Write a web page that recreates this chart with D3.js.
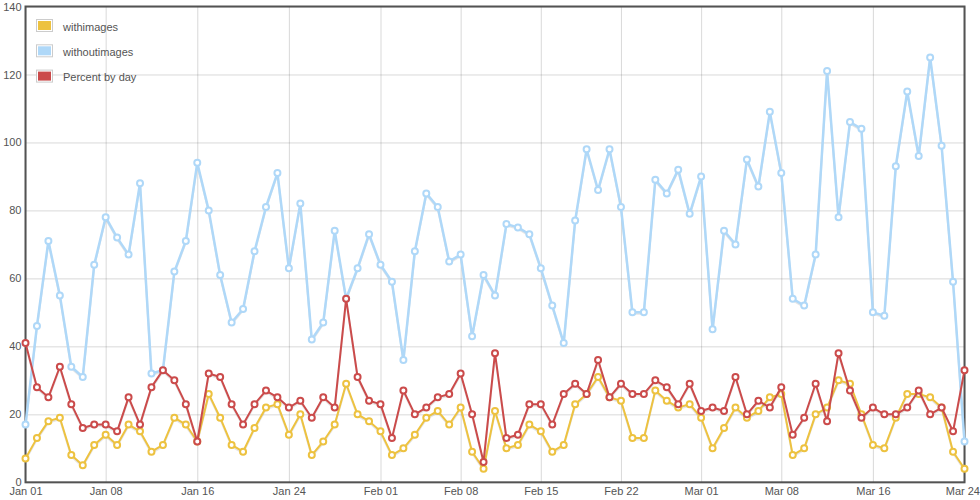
<!DOCTYPE html>
<html>
<head>
<meta charset="utf-8">
<script src="https://cdn.jsdelivr.net/npm/d3@7"></script>
<style>
  html, body { margin: 0; padding: 0; background: #fff; }
  svg { display: block; font-family: "Liberation Sans", Arial, sans-serif; }
</style>
</head>
<body>
<svg id="chart" width="980" height="500"></svg>
<script>
// ---- data ----
const startDate = "2011-01-01";
const seriesNames = ["withimages", "withoutimages", "Percent by day"];
const seriesColors = ["#edc240", "#afd8f8", "#cb4b4b"];
const withimages = [7,13,18,19,8,5,11,14,11,17,15,9,11,19,17,12,26,19,11,9,16,22,23,14,20,8,12,17,29,20,18,15,8,10,14,19,21,17,22,9,4,21,10,11,17,15,9,11,23,26,31,25,24,13,13,27,24,22,23,19,10,16,22,19,21,25,26,8,10,20,22,30,29,20,11,10,19,26,26,25,22,9,4];
const withoutimages = [17,46,71,55,34,31,64,78,72,67,88,32,33,62,71,94,80,61,47,51,68,81,91,63,82,42,47,74,54,63,73,64,59,36,68,85,81,65,67,43,61,55,76,75,73,63,52,41,77,98,86,98,81,50,50,89,85,92,79,90,45,74,70,95,87,109,91,54,52,67,121,78,106,104,50,49,93,115,96,125,99,59,12];
const percentByDay = [41,28,25,34,23,16,17,17,15,25,17,28,33,30,23,12,32,31,23,17,23,27,25,22,24,19,25,22,54,31,24,23,13,27,20,22,25,26,32,20,6,38,13,14,23,23,17,26,29,26,36,25,29,26,26,30,28,23,29,21,22,21,31,20,24,22,28,14,19,29,18,38,27,19,22,20,20,22,27,20,22,15,33];
const xTickLabels = ["2011-01-01","2011-01-08","2011-01-16","2011-01-24","2011-02-01","2011-02-08","2011-02-15","2011-02-22","2011-03-01","2011-03-08","2011-03-16","2011-03-24"];
const yTicks = [0,20,40,60,80,100,120,140];

// ---- layout ----
const W = 980;
const svg = d3.select("#chart");
const L = 25.5, R = 964.5, T = 6.5, B = 482.3;
const parse = d3.utcParse("%Y-%m-%d");
const fmt = d3.utcFormat("%b %d");
const d0 = parse(startDate);
const dates = withimages.map((_, i) => d3.utcDay.offset(d0, i));

const x = d3.scaleUtc().domain([dates[0], dates[dates.length - 1]]).range([L, R]);
const y = d3.scaleLinear().domain([0, 140]).range([B, T]);

const gridColor = "rgba(84,84,84,0.22)";

// grid
const xAxis = d3.axisBottom(x).tickValues(xTickLabels.map(parse)).tickFormat(fmt).tickSize(-(B - T)).tickPadding(6);
const gx = svg.append("g").attr("transform", `translate(0,${B})`).call(xAxis);
gx.select(".domain").remove();
gx.selectAll(".tick line").attr("stroke", gridColor).attr("stroke-width", 1);
gx.selectAll(".tick text").attr("fill", "#545454").attr("font-size", 11).attr("dy", "0.71em").attr("y", 5);
// keep the last label inside the canvas (as in the original it ends at the edge)
gx.selectAll(".tick").filter((d, i, n) => i === n.length - 1).select("text")
  .attr("text-anchor", "end").attr("x", W - 0.5 - R);

const yAxis = d3.axisLeft(y).tickValues(yTicks).tickSize(-(R - L)).tickPadding(5);
const gy = svg.append("g").attr("transform", `translate(${L},0)`).call(yAxis);
gy.select(".domain").remove();
gy.selectAll(".tick line").attr("stroke", gridColor).attr("stroke-width", 1);
gy.selectAll(".tick text").attr("fill", "#545454").attr("font-size", 11).attr("x", -4);

// series
const allSeries = [withimages, withoutimages, percentByDay];
const widths = [2, 2.5, 2];
const line = d3.line().x((d, i) => x(dates[i])).y(d => y(d));

allSeries.forEach((vals, si) => {
  const g = svg.append("g");
  g.append("path").datum(vals).attr("d", line)
    .attr("transform", "translate(0,1.5)")
    .attr("fill", "none").attr("stroke", "rgba(0,0,0,0.1)").attr("stroke-width", 2).attr("stroke-linejoin", "round");
  g.append("path").datum(vals).attr("d", line)
    .attr("fill", "none").attr("stroke", seriesColors[si]).attr("stroke-width", widths[si]).attr("stroke-linejoin", "round");
  g.selectAll("circle").data(vals).join("circle")
    .attr("cx", (d, i) => x(dates[i])).attr("cy", d => y(d)).attr("r", 3)
    .attr("fill", "#fff").attr("stroke", seriesColors[si]).attr("stroke-width", 2);
});

// border
svg.insert("rect", "g").attr("x", L).attr("y", T).attr("width", R - L).attr("height", B - T)
  .attr("fill", "none").attr("stroke", "#545454").attr("stroke-width", 2);

// legend
const lg = svg.append("g");
seriesNames.forEach((name, i) => {
  const yy = 19 + i * 25.3;
  lg.append("rect").attr("x", 36.5).attr("y", yy + 0.5).attr("width", 16).attr("height", 12)
    .attr("fill", "#fff").attr("stroke", "#ccc").attr("stroke-width", 1);
  lg.append("rect").attr("x", 38).attr("y", yy + 2).attr("width", 13).attr("height", 9).attr("fill", seriesColors[i]);
  lg.append("text").attr("x", 63).attr("y", yy + 11.5).attr("font-size", 11).attr("fill", "#545454").text(name);
});
</script>
</body>
</html>
